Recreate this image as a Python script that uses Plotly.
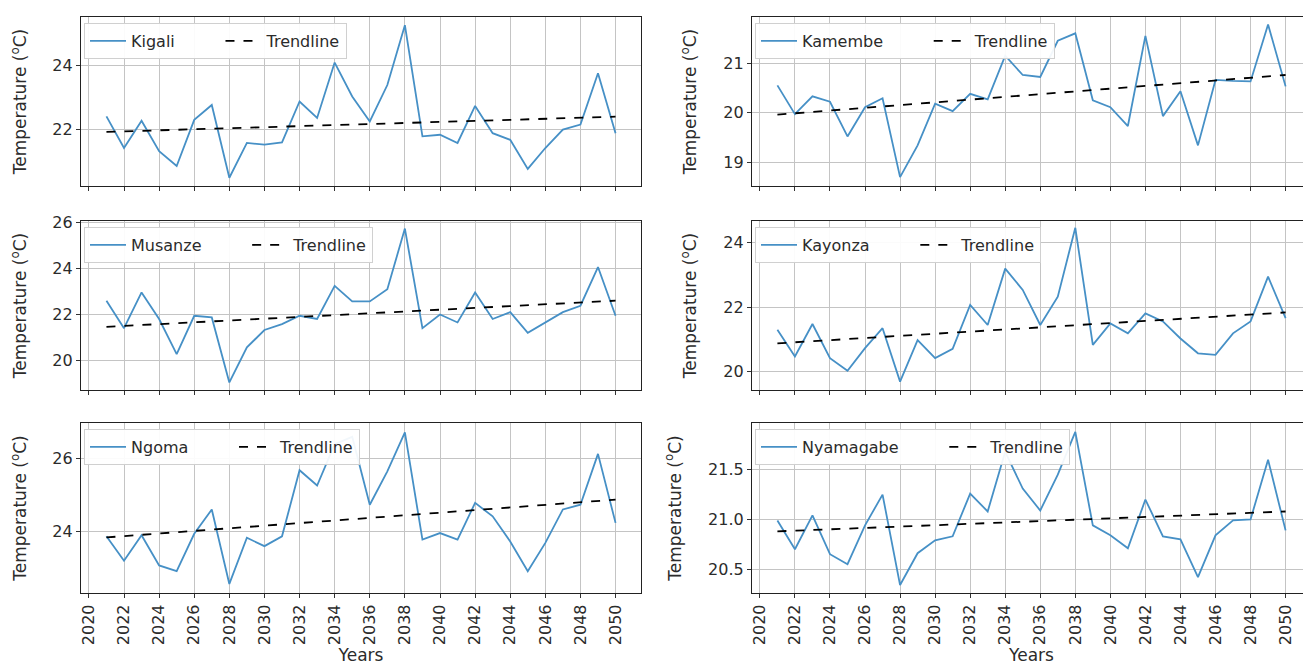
import plotly.graph_objects as go

years = [2021, 2022, 2023, 2024, 2025, 2026, 2027, 2028, 2029, 2030,
         2031, 2032, 2033, 2034, 2035, 2036, 2037, 2038, 2039, 2040,
         2041, 2042, 2043, 2044, 2045, 2046, 2047, 2048, 2049, 2050]

kigali = [22.40, 21.40, 22.26, 21.30, 20.83, 22.29, 22.76, 20.46, 21.56, 21.51,
          21.58, 22.87, 22.35, 24.10, 23.03, 22.24, 23.39, 25.28, 21.77, 21.82,
          21.56, 22.73, 21.87, 21.66, 20.74, 21.40, 21.98, 22.14, 23.76, 21.87]
kamembe = [20.55, 19.97, 20.33, 20.22, 19.52, 20.11, 20.29, 18.70, 19.34, 20.18,
           20.03, 20.38, 20.27, 21.15, 20.76, 20.72, 21.45, 21.60, 20.25, 20.11,
           19.73, 21.55, 19.93, 20.43, 19.34, 20.66, 20.64, 20.63, 21.78, 20.53]
musanze = [22.60, 21.40, 22.96, 21.80, 20.27, 21.94, 21.87, 19.03, 20.56, 21.32,
           21.58, 21.94, 21.80, 23.25, 22.57, 22.57, 23.10, 25.75, 21.40, 22.00,
           21.65, 22.96, 21.80, 22.10, 21.20, 21.65, 22.10, 22.38, 24.07, 21.94]
kayonza = [21.30, 20.47, 21.48, 20.42, 20.03, 20.73, 21.35, 19.69, 20.98, 20.42,
           20.71, 22.07, 21.45, 23.20, 22.54, 21.45, 22.33, 24.47, 20.83, 21.50,
           21.19, 21.81, 21.56, 21.03, 20.57, 20.52, 21.19, 21.56, 22.95, 21.66]
ngoma = [23.86, 23.19, 23.89, 23.06, 22.90, 23.93, 24.60, 22.55, 23.82, 23.59,
         23.86, 25.68, 25.26, 26.40, 26.60, 24.73, 25.65, 26.72, 23.77, 23.95,
         23.77, 24.78, 24.41, 23.72, 22.90, 23.68, 24.60, 24.73, 26.13, 24.23]
nyamagabe = [20.99, 20.70, 21.04, 20.65, 20.55, 20.94, 21.25, 20.34, 20.66, 20.79,
             20.83, 21.26, 21.08, 21.68, 21.31, 21.09, 21.45, 21.88, 20.94, 20.84,
             20.71, 21.20, 20.83, 20.80, 20.42, 20.84, 20.99, 21.00, 21.60, 20.89]

cities = ["Kigali", "Kamembe", "Musanze", "Kayonza", "Ngoma", "Nyamagabe"]
series = [kigali, kamembe, musanze, kayonza, ngoma, nyamagabe]
trend_start = [21.91, 19.96, 21.46, 20.88, 23.83, 20.88]
trend_end = [22.39, 20.76, 22.60, 21.84, 24.87, 21.08]

x_tickvals = [2020, 2022, 2024, 2026, 2028, 2030, 2032, 2034, 2036, 2038,
              2040, 2042, 2044, 2046, 2048, 2050]
y_tickvals = [[22, 24], [19, 20, 21], [20, 22, 24, 26], [20, 22, 24],
              [24, 26], [20.5, 21.0, 21.5]]
y_ticktext = [["22", "24"], ["19", "20", "21"], ["20", "22", "24", "26"],
              ["20", "22", "24"], ["24", "26"], ["20.5", "21.0", "21.5"]]
y_ranges = [[20.20, 25.54], [18.52, 21.93], [18.70, 26.08], [19.43, 24.68],
            [22.30, 26.98], [20.26, 21.97]]

W, H = 1311, 666
col_px = [(73, 633), (744, 1303)]
row_px = [(9, 178), (213, 382), (415, 585)]
LEGEND_PAD = "&nbsp;" * 8   # column spacing between the two legend entries

FONT = "DejaVu Sans"
TXT = "#2b2b2b"
LINE_BLUE = "#4690c6"
FS = 16

fig = go.Figure()
layout = dict(width=W, height=H,
              margin=dict(l=0, r=0, t=0, b=0, autoexpand=False),
              paper_bgcolor="white", plot_bgcolor="white",
              font=dict(family=FONT, size=FS, color=TXT), showlegend=True)

for i, (city, vals) in enumerate(zip(cities, series)):
    r, c = divmod(i, 2)
    n = i + 1
    xa = "x" if n == 1 else f"x{n}"
    ya = "y" if n == 1 else f"y{n}"
    lg = "legend" if n == 1 else f"legend{n}"
    fig.add_trace(go.Scatter(x=years, y=vals, mode="lines", name=city + LEGEND_PAD,
                             line=dict(color=LINE_BLUE, width=1.8),
                             xaxis=xa, yaxis=ya, legend=lg))
    fig.add_trace(go.Scatter(x=[years[0], years[-1]], y=[trend_start[i], trend_end[i]],
                             mode="lines", name="Trendline",
                             line=dict(color="black", width=1.8, dash="dash"),
                             xaxis=xa, yaxis=ya, legend=lg))
    x0, x1 = col_px[c]
    t0, t1 = row_px[r]
    bottom = (r == 2)
    layout["xaxis" if n == 1 else f"xaxis{n}"] = dict(
        domain=[x0 / W, x1 / W], anchor=ya, range=[2019.55, 2051.45],
        tickvals=x_tickvals, showticklabels=bottom, tickangle=-90,
        ticks="outside", ticklen=4, tickcolor="#333", tickfont=dict(size=FS),
        showgrid=True, gridcolor="#c4c4c4", gridwidth=1,
        showline=True, linecolor="#222", linewidth=1.2, mirror=True,
        zeroline=False, automargin=False,
        title=dict(text="Years", font=dict(size=FS + 1), standoff=4) if bottom else None)
    layout["yaxis" if n == 1 else f"yaxis{n}"] = dict(
        domain=[1 - t1 / H, 1 - t0 / H], anchor=xa, range=y_ranges[i],
        tickvals=y_tickvals[i], ticktext=y_ticktext[i],
        ticks="outside", ticklen=4, tickcolor="#333", tickfont=dict(size=FS),
        showgrid=True, gridcolor="#c4c4c4", gridwidth=1,
        showline=True, linecolor="#222", linewidth=1.2, mirror=True,
        zeroline=False, automargin=False,
        title=dict(text="Temperature (<sup>o</sup>C)", font=dict(size=FS + 1), standoff=22))
    layout[lg] = dict(x=(x0 + 3) / W, y=1 - (t0 + 6) / H, xanchor="left", yanchor="top",
                      orientation="h", bgcolor="rgba(255,255,255,0.93)",
                      bordercolor="#d0d0d0", borderwidth=1,
                      font=dict(size=FS, color=TXT), itemwidth=36)

fig.update_layout(**layout)
fig.write_html("out.html")
